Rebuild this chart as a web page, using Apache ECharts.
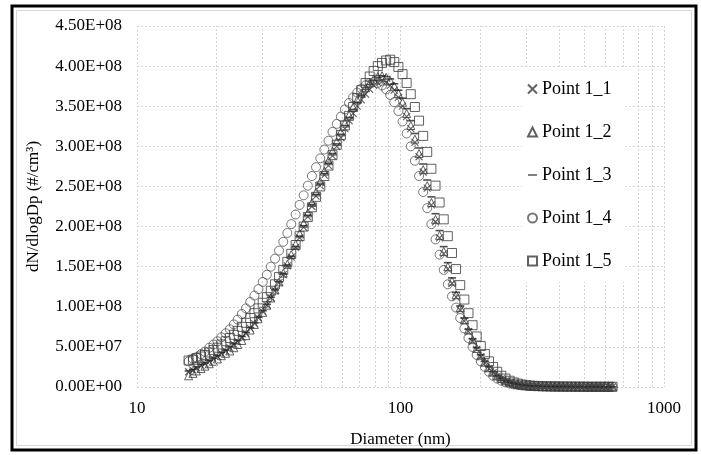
<!DOCTYPE html>
<html>
<head>
<meta charset="utf-8">
<script src="https://cdn.jsdelivr.net/npm/echarts@6/dist/echarts.min.js"></script>
<style>
  html, body { margin: 0; padding: 0; background: #fff; }
  #chart { width: 701px; height: 455px; }
</style>
</head>
<body>
<div id="chart"></div>
<script>
// SMPS channel diameters (nm)
var diameters = [
  15.7, 16.3, 16.8, 17.5, 18.1, 18.8, 19.5, 20.2, 20.9, 21.7,
  22.5, 23.3, 24.1, 25.0, 25.9, 26.9, 27.9, 28.9, 30.0, 31.1,
  32.2, 33.4, 34.6, 35.9, 37.2, 38.5, 40.0, 41.4, 42.9, 44.5,
  46.1, 47.8, 49.6, 51.4, 53.3, 55.2, 57.3, 59.4, 61.5, 63.8,
  66.1, 68.5, 71.0, 73.7, 76.4, 79.1, 82.0, 85.1, 88.2, 91.4,
  94.7, 98.2, 101.8, 105.5, 109.4, 113.4, 117.6, 121.9, 126.3, 131.0,
  135.8, 140.7, 145.9, 151.2, 156.8, 162.5, 168.5, 174.7, 181.1, 187.7,
  194.6, 201.7, 209.1, 216.7, 224.7, 232.9, 241.4, 250.3, 259.5, 269.0,
  278.8, 289.0, 299.6, 310.6, 322.0, 333.8, 346.0, 358.7, 371.8, 385.4,
  399.5, 414.2, 429.4, 445.1, 461.4, 478.3, 495.8, 514.0, 532.8, 552.3,
  572.5, 593.5, 615.3, 637.8
];

// dN/dlogDp values, in units of 1E+06 #/cm3
var point1_1 = [
  19, 21, 24, 27, 29, 32, 35, 38, 42, 45,
  49, 53, 57, 62, 67, 73, 79, 86, 94, 102,
  111, 120, 130, 140, 151, 162, 174, 186, 199, 212,
  225, 238, 251, 264, 276, 288, 300, 311, 322, 332,
  341, 350, 358, 365, 371, 376, 379, 381, 380, 376,
  370, 361, 350, 337, 322, 305, 287, 268, 248, 227,
  206, 186, 166, 147, 129, 112, 96, 82, 69, 57,
  47, 38, 30, 23, 18, 13.5, 10, 7.5, 5.6, 4.2,
  3.1, 2.3, 1.8, 1.4, 1.1, 0.9, 0.8, 0.7, 0.6, 0.6,
  0.5, 0.5, 0.5, 0.4, 0.4, 0.4, 0.4, 0.3, 0.3, 0.3,
  0.3, 0.3, 0.2, 0.2
];
var point1_2 = [
  14, 17, 20, 23, 26, 29, 32, 35, 39, 42,
  45, 49, 53, 58, 64, 71, 78, 85, 93, 102,
  111, 121, 131, 142, 153, 165, 178, 191, 204, 217,
  230, 243, 256, 269, 282, 294, 306, 318, 329, 339,
  349, 358, 366, 373, 379, 384, 387, 388, 386, 382,
  375, 366, 355, 341, 326, 309, 291, 271, 251, 230,
  209, 189, 169, 150, 132, 115, 99, 84, 71, 59,
  48, 39, 31, 24, 18.5, 14, 10.5, 7.8, 5.8, 4.3,
  3.2, 2.4, 1.8, 1.4, 1.1, 0.9, 0.8, 0.7, 0.6, 0.6,
  0.5, 0.5, 0.5, 0.4, 0.4, 0.4, 0.3, 0.3, 0.3, 0.3,
  0.3, 0.2, 0.2, 0.2
];
var point1_3 = [
  20, 22, 25, 28, 30, 33, 36, 39, 43, 46,
  50, 54, 58, 63, 68, 74, 80, 87, 95, 103,
  112, 121, 131, 141, 152, 163, 175, 188, 201, 214,
  227, 240, 253, 266, 279, 291, 303, 315, 326, 336,
  346, 355, 363, 371, 377, 382, 386, 388, 387, 384,
  378, 370, 360, 347, 332, 316, 298, 278, 258, 237,
  216, 195, 175, 155, 136, 118, 101, 86, 72, 60,
  49, 40, 32, 25, 19, 14.5, 11, 8, 6, 4.5,
  3.3, 2.5, 1.9, 1.5, 1.2, 1.0, 0.8, 0.7, 0.6, 0.6,
  0.5, 0.5, 0.5, 0.4, 0.4, 0.4, 0.4, 0.3, 0.3, 0.3,
  0.3, 0.3, 0.3, 0.2
];
var point1_4 = [
  32, 35, 37, 41, 44, 49, 53, 57, 62, 67,
  72, 78, 84, 91, 98, 106, 114, 122, 131, 140,
  150, 160, 170, 181, 192, 203, 215, 227, 239, 251,
  263, 274, 285, 296, 307, 318, 328, 337, 346, 354,
  361, 367, 372, 376, 379, 380, 379, 376, 371, 364,
  355, 344, 331, 316, 300, 282, 263, 243, 223, 203,
  184, 165, 146, 128, 113, 99, 86, 73, 61, 50,
  40, 32, 25, 19, 14, 10.5, 7.8, 5.8, 4.3, 3.2,
  2.4, 1.9, 1.5, 1.2, 1.0, 0.9, 0.8, 0.7, 0.7, 0.6,
  0.6, 0.5, 0.5, 0.5, 0.4, 0.4, 0.4, 0.4, 0.3, 0.3,
  0.3, 0.3, 0.3, 0.3
];
var point1_5 = [
  33, 34, 36, 38, 40, 43, 46, 49, 53, 57,
  61, 65, 70, 75, 80, 86, 92, 98, 105, 112,
  120, 128, 137, 146, 156, 166, 177, 188, 200, 212,
  224, 237, 250, 263, 276, 289, 302, 314, 326, 338,
  349, 360, 370, 379, 387, 394, 400, 404, 407, 408,
  405, 399, 390, 379, 365, 349, 332, 313, 293, 272,
  251, 230, 209, 188, 167, 147, 127, 109, 92, 77,
  63, 51, 41, 32, 25, 19, 14, 10.5, 7.8, 5.7,
  4.2, 3.1, 2.3, 1.8, 1.4, 1.1, 0.9, 0.8, 0.7, 0.6,
  0.6, 0.5, 0.5, 0.5, 0.4, 0.4, 0.4, 0.3, 0.3, 0.3,
  0.3, 0.3, 0.3, 0.3
];

var seriesNames = ['Point 1_1', 'Point 1_2', 'Point 1_3', 'Point 1_4', 'Point 1_5'];
var seriesValues = [point1_1, point1_2, point1_3, point1_4, point1_5];

// minor log gridlines (nm)
var minorGrid = [20, 30, 40, 50, 60, 70, 80, 90, 200, 300, 400, 500, 600, 700, 800, 900];

var fontFam = '"Liberation Serif", "Times New Roman", serif';
var markColor = '#3a3a3a';
var gridColor = '#d4d4d4';

var crossPath = 'path://M0,0L10,10M10,0L0,10';
var dashPath = 'path://M0,0L10,0L10,1.6L0,1.6Z';

// symbol per series
var markers = [
  { symbol: crossPath, size: 7, style: { color: 'transparent', borderColor: markColor, borderWidth: 1.1 } },
  { symbol: 'triangle', size: 8, style: { color: 'transparent', borderColor: markColor, borderWidth: 1 } },
  { symbol: 'rect', size: [8, 1.6], style: { color: '#222', borderWidth: 0 } },
  { symbol: 'circle', size: 9, style: { color: 'transparent', borderColor: '#555', borderWidth: 1 } },
  { symbol: 'rect', size: 9, style: { color: 'transparent', borderColor: markColor, borderWidth: 1 } }
];
var legendIcons = [crossPath, 'triangle', dashPath, 'circle', 'rect'];

function sciLabel(v) {
  var s = v.toExponential(2);          // e.g. 4.50e+8
  var parts = s.split('e');
  var sign = parts[1].charAt(0);
  var exp = parts[1].slice(1);
  if (exp.length < 2) exp = '0' + exp;
  return parts[0] + 'E' + sign + exp;
}

var chart = echarts.init(document.getElementById('chart'));

var series = seriesNames.map(function (name, k) {
  var m = markers[k];
  return {
    name: name,
    type: 'scatter',
    symbol: m.symbol,
    symbolSize: m.size,
    itemStyle: m.style,
    emphasis: { disabled: true },
    data: diameters.map(function (d, i) { return [d, seriesValues[k][i] * 1e6]; }),
    z: 3 + k
  };
});

// gridlines for log minors, held by an empty series
series.push({
  type: 'line',
  data: [],
  silent: true,
  markLine: {
    silent: true,
    symbol: 'none',
    label: { show: false },
    lineStyle: { color: gridColor, type: [2, 2], width: 1 },
    data: minorGrid.map(function (v) { return { xAxis: v }; })
  },
  z: 1
});

var option = {
  backgroundColor: '#fff',
  animation: false,
  graphic: [
    { type: 'rect', shape: { x: 12, y: 6, width: 684, height: 444 }, style: { fill: 'none', stroke: '#000', lineWidth: 3 }, z: 0 },
    { type: 'rect', shape: { x: 16.5, y: 10.5, width: 675, height: 435 }, style: { fill: 'none', stroke: '#d9d9d9', lineWidth: 1 }, z: 0 }
  ],
  grid: { left: 137, right: 37, top: 26, bottom: 68 },
  xAxis: {
    type: 'log',
    logBase: 10,
    min: 10,
    max: 1000,
    name: 'Diameter (nm)',
    nameLocation: 'middle',
    nameGap: 44,
    nameTextStyle: { fontFamily: fontFam, fontSize: 17, color: '#000' },
    axisLine: { show: false },
    axisTick: { show: false },
    axisLabel: { fontFamily: fontFam, fontSize: 17, color: '#000', margin: 13, formatter: function (v) { return String(v); } },
    splitLine: { show: true, lineStyle: { color: gridColor, type: [2, 2], width: 1 } }
  },
  yAxis: {
    type: 'value',
    min: 0,
    max: 4.5e8,
    interval: 5e7,
    name: 'dN/dlogDp (#/cm³)',
    nameLocation: 'middle',
    nameGap: 95,
    nameTextStyle: { fontFamily: fontFam, fontSize: 17, color: '#000' },
    axisLine: { show: false },
    axisTick: { show: false },
    axisLabel: { fontFamily: fontFam, fontSize: 17, color: '#000', margin: 15, formatter: sciLabel },
    splitLine: { show: true, lineStyle: { color: gridColor, type: [2, 2], width: 1 } }
  },
  legend: {
    data: seriesNames.map(function (n, k) { return { name: n, icon: legendIcons[k] }; }),
    orient: 'vertical',
    left: 522,
    top: 68,
    padding: [12, 14, 12, 5],
    itemGap: 25,
    itemWidth: 9,
    itemHeight: 9,
    backgroundColor: '#fff',
    textStyle: { fontFamily: fontFam, fontSize: 18, color: '#000' },
    z: 10
  },
  series: series
};

chart.setOption(option);
</script>
</body>
</html>
